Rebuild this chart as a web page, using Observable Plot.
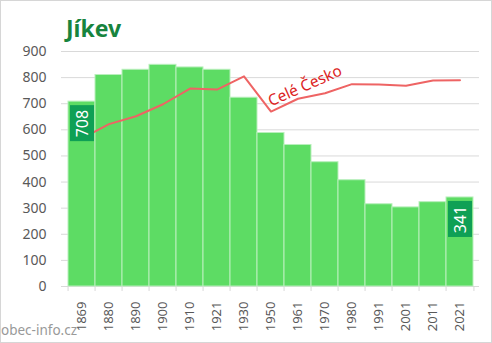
<!DOCTYPE html>
<html>
<head>
<meta charset="utf-8">
<script src="https://cdn.jsdelivr.net/npm/d3@7"></script>
<script src="https://cdn.jsdelivr.net/npm/@observablehq/plot@0.6"></script>
<style>
  html, body { margin: 0; padding: 0; background: #fff; }
  #wrap { position: relative; width: 492px; height: 343px; overflow: hidden; font-family: "Noto Sans", "Open Sans", sans-serif; }
  #wrap svg { position: absolute; left: 0; top: 0; }
  #title { position: absolute; left: 66px; top: 17px; font-size: 23px; font-weight: bold; color: #17843e; line-height: 1; }
  #credit { position: absolute; left: 1px; top: 324px; font-size: 13.5px; color: #999; line-height: 1; }
  #border { position: absolute; left: 0; top: 0; width: 492px; height: 343px; box-sizing: border-box; border: 1px solid #d6d6d6; pointer-events: none; }
</style>
</head>
<body>
<div id="wrap">
  <div id="border"></div>
</div>
<script>
const years = ["1869","1880","1890","1900","1910","1921","1930","1950","1961","1970","1980","1991","2001","2011","2021"];
const population = [708, 810, 830, 849, 839, 830, 723, 588, 542, 476, 407, 315, 303, 323, 341];
const czechia = [567, 622, 652, 698, 758, 754, 805, 670, 719, 740, 775, 774, 769, 789, 790];
const yTicks = [0, 100, 200, 300, 400, 500, 600, 700, 800, 900];
const labeledYears = ["1869", "2021"];
const titleText = "Jíkev";
const seriesLabel = "Celé Česko";
const creditText = "obec-info.cz";

const rows = years.map((year, i) => ({year, pop: population[i], cz: czechia[i]}));
const labelRows = rows.filter(d => labeledYears.includes(d.year));

const W = 492, H = 343, mL = 61, mR = 13, mT = 51, mB = 57;
const bw = (W - mL - mR) / years.length;

const chart = Plot.plot({
  width: W, height: H,
  marginTop: mT, marginBottom: mB, marginLeft: mL, marginRight: mR,
  style: {fontFamily: "Noto Sans, Open Sans, sans-serif", fontSize: "14px", color: "#595959", background: "transparent", overflow: "visible"},
  x: {type: "band", domain: years, padding: 0, axis: null},
  y: {domain: [0, 900], axis: null},
  marks: [
    Plot.ruleY(yTicks, {stroke: "#d9d9d9", strokeWidth: 1}),
    Plot.barY(rows, {x: "year", y: "pop", fill: "#5ddc64", stroke: "#b9efbc", strokeWidth: 1}),
    Plot.line(rows, {x: "year", y: "cz", stroke: "#ee6464", strokeWidth: 2}),
    Plot.barY(labelRows, {x: "year", y1: "pop", y2: "pop", fill: "#0fa055", insetTop: 4, insetBottom: -40, insetLeft: 2, insetRight: 1}),
    Plot.text(labelRows, {x: "year", y: "pop", text: d => String(d.pop), rotate: -90, dy: 22, dx: 0.5, fill: "white", fontSize: 16}),
    Plot.text([seriesLabel], {x: () => "1961", y: () => 768, text: d => d, rotate: -24, dx: 7, fill: "#dc1e24", fontSize: 15.5}),
    Plot.ruleX(years, {x: d => d, y1: () => 0, y2: () => 0, insetBottom: -5, dx: -bw / 2, stroke: "#d9d9d9"}),
    Plot.ruleX([years[years.length - 1]], {x: d => d, y1: () => 0, y2: () => 0, insetBottom: -5, dx: bw / 2, stroke: "#d9d9d9"}),
    Plot.axisY({ticks: yTicks, tickSize: 0, tickPadding: 15, label: null, fontSize: 14, fill: "#595959"}),
    Plot.axisX({tickSize: 0, tickPadding: 15, tickRotate: -90, label: null, fontSize: 13, fill: "#595959"})
  ]
});

const wrap = document.getElementById("wrap");
wrap.insertBefore(chart, wrap.firstChild);
const t = document.createElement("div"); t.id = "title"; t.textContent = titleText; wrap.appendChild(t);
const c = document.createElement("div"); c.id = "credit"; c.textContent = creditText; wrap.appendChild(c);
</script>
</body>
</html>
